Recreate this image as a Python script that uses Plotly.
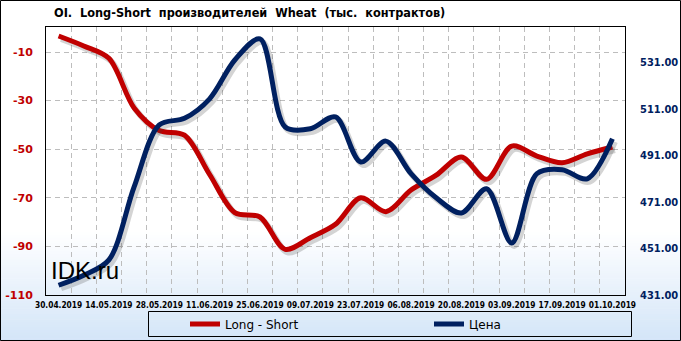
import plotly.graph_objects as go

# ---- data ----
dates = ["30.04.2019", "07.05.2019", "14.05.2019", "21.05.2019", "28.05.2019",
         "04.06.2019", "11.06.2019", "18.06.2019", "25.06.2019", "02.07.2019",
         "09.07.2019", "16.07.2019", "23.07.2019", "30.07.2019", "06.08.2019",
         "13.08.2019", "20.08.2019", "27.08.2019", "03.09.2019", "10.09.2019",
         "17.09.2019", "24.09.2019", "01.10.2019"]
long_short = [-3.4, -7.5, -12.6, -33.0, -42.3, -44.2, -60.4, -76.1, -77.9, -91.2,
              -86.4, -80.9, -70.0, -75.7, -66.8, -60.7, -53.2, -62.4, -48.7, -52.8,
              -55.6, -51.9, -49.1]
price = [435.2, 439.5, 446.1, 477.5, 504.2, 507.0, 515.4, 532.1, 541.2, 503.3,
         502.5, 507.6, 488.2, 497.2, 483.2, 472.8, 466.3, 476.7, 453.4, 483.2,
         484.9, 481.0, 498.2]
left_ticks = [-110, -90, -70, -50, -30, -10]
right_ticks = [431, 451, 471, 491, 511, 531]
title_text = "OI.  Long-Short  производителей  Wheat  (тыс.  контрактов)"
series_names = ["Long - Short", "Цена"]

W, H = 681, 341
L, R, T, B = 46, 56, 27, 46
pw, ph = W - L - R, H - T - B

Y1_RANGE = [-110, 0.3]
Y2_RANGE = [431, 546.3]

idx = list(range(len(dates)))
RED = "#C00000"
NAVY = "#002060"
SHADOW = "rgba(60,60,60,0.22)"

# drop-shadow offsets (pixels converted to axis units)
sdx_px, sdy_px = 2.5, 3.0
sdx = sdx_px * len(dates) / pw
sdy1 = sdy_px * (Y1_RANGE[1] - Y1_RANGE[0]) / ph
sdy2 = sdy_px * (Y2_RANGE[1] - Y2_RANGE[0]) / ph

fig = go.Figure()
fig.add_trace(go.Scatter(x=[i + sdx for i in idx], y=[v - sdy1 for v in long_short],
                         mode="lines", showlegend=False, hoverinfo="skip",
                         line=dict(color=SHADOW, width=6, shape="spline", smoothing=0.9),
                         yaxis="y"))
fig.add_trace(go.Scatter(x=[i + sdx for i in idx], y=[v - sdy2 for v in price],
                         mode="lines", showlegend=False, hoverinfo="skip",
                         line=dict(color=SHADOW, width=6, shape="spline", smoothing=0.9),
                         yaxis="y2"))
fig.add_trace(go.Scatter(x=idx, y=long_short, name=series_names[0], mode="lines",
                         line=dict(color=RED, width=5, shape="spline", smoothing=0.9),
                         yaxis="y"))
fig.add_trace(go.Scatter(x=idx, y=price, name=series_names[1], mode="lines",
                         line=dict(color=NAVY, width=5, shape="spline", smoothing=0.9),
                         yaxis="y2"))

# background gradient (white -> light blue) built from thin bands
shapes = []
top_px, bot_px = 232, H
n = 40
c0 = (255, 255, 255)
c1 = (211, 229, 248)
for k in range(n):
    y0p = top_px + (bot_px - top_px) * k / n
    y1p = top_px + (bot_px - top_px) * (k + 1) / n
    f = (k + 0.5) / n
    col = "rgb(%d,%d,%d)" % tuple(round(c0[j] + (c1[j] - c0[j]) * f) for j in range(3))
    shapes.append(dict(type="rect", xref="paper", yref="paper", layer="below",
                       x0=(0 - L) / pw, x1=(W - L) / pw,
                       y0=(H - B - y1p) / ph - 0.002, y1=(H - B - y0p) / ph,
                       line=dict(width=0), fillcolor=col))
# legend box
shapes.append(dict(type="rect", xref="paper", yref="paper", layer="above",
                   x0=(148.5 - L) / pw, x1=(631.5 - L) / pw,
                   y0=(H - B - 336.5) / ph, y1=(H - B - 311.5) / ph,
                   line=dict(color="black", width=1), fillcolor="rgba(0,0,0,0)"))
# outer border
shapes.append(dict(type="rect", xref="paper", yref="paper", layer="above",
                   x0=(0.5 - L) / pw, x1=(W - 0.5 - L) / pw,
                   y0=(H - B - (H - 0.5)) / ph, y1=(H - B - 0.5) / ph,
                   line=dict(color="black", width=1), fillcolor="rgba(0,0,0,0)"))

fig.update_layout(
    width=W, height=H,
    margin=dict(l=L, r=R, t=T, b=B, pad=0, autoexpand=False),
    paper_bgcolor="white", plot_bgcolor="rgba(0,0,0,0)",
    shapes=shapes,
    showlegend=True,
    legend=dict(orientation="h", x=(185 - L) / pw, xanchor="left",
                y=(H - B - 324) / ph, yanchor="middle",
                bgcolor="rgba(0,0,0,0)", borderwidth=0,
                font=dict(family="DejaVu Sans", size=12, color="black"),
                itemwidth=30, entrywidth=199, entrywidthmode="pixels",
                traceorder="normal"),
    title=dict(text=title_text, x=54 / W, xanchor="left", xref="container",
               y=1 - 13 / H, yanchor="middle", yref="container",
               font=dict(family="DejaVu Sans Condensed, DejaVu Sans", size=12.6,
                         color="black", weight="bold")),
    xaxis=dict(range=[-0.5, len(dates) - 0.5], tickmode="array",
               tickvals=idx[::2], ticktext=dates[::2], tickangle=0,
               showgrid=False, zeroline=False, ticks="", automargin=False,
               showline=True, linecolor="black", linewidth=1, mirror=True,
               tickfont=dict(family="DejaVu Sans Condensed, Liberation Sans", size=8.3,
                             color="black", weight="bold"),
               ticklabelstandoff=2,
               minor=dict(tickmode="array", tickvals=[i + 0.5 for i in idx[:-1]],
                          showgrid=True, gridcolor="#BDBDBD", griddash="5px,4px",
                          gridwidth=1, ticks="")),
    yaxis=dict(range=Y1_RANGE, tickmode="array", tickvals=left_ticks,
               ticktext=[str(v) for v in left_ticks], automargin=False,
               showgrid=True, gridcolor="#BDBDBD", griddash="5px,4px", gridwidth=1,
               zeroline=False, ticks="",
               showline=True, linecolor="black", linewidth=1, mirror=True,
               tickfont=dict(family="DejaVu Sans", size=11, color=RED, weight="bold"),
               ticklabelstandoff=10),
    yaxis2=dict(range=Y2_RANGE, tickmode="array", tickvals=right_ticks,
                ticktext=["%.2f" % v for v in right_ticks], automargin=False,
                overlaying="y", side="right", showgrid=False, zeroline=False,
                ticks="", showline=False,
                tickfont=dict(family="DejaVu Sans Condensed, DejaVu Sans", size=11,
                              color=NAVY, weight="bold"),
                ticklabelstandoff=14),
    annotations=[dict(text="IDK.ru", xref="paper", yref="paper",
                      x=(49 - L) / pw, y=(H - B - 270) / ph,
                      xanchor="left", yanchor="middle", showarrow=False,
                      font=dict(family="Liberation Sans", size=24, color="black"))],
)

fig.write_html("out.html")
